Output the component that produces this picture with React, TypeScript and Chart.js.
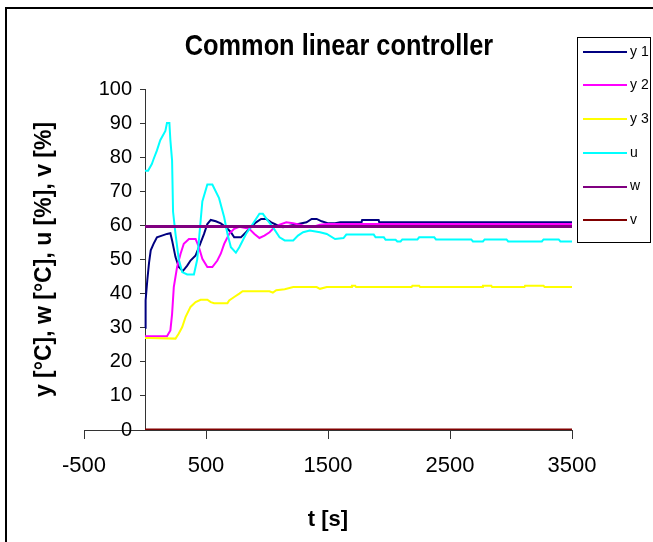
import React, { useEffect, useRef } from 'react';
import { Chart, registerables } from 'chart.js';

Chart.register(...registerables);

const SANS = "'Liberation Sans', Arial, sans-serif";

// ---- texts ----
const chartTitle = 'Common linear controller';
const xAxisTitle = 't [s]';
const yAxisTitle = 'y [°C], w [°C], u [%], v [%]';
const seriesNames = ['y 1', 'y 2', 'y 3', 'u', 'w', 'v'];

// ---- tick values ----
const xTickValues = [-500, 500, 1500, 2500, 3500];
const yTickValues = [0, 10, 20, 30, 40, 50, 60, 70, 80, 90, 100];

// ---- series: time [s] and value ----
const y1Times = [0, 5, 19, 33, 47, 70, 98, 139, 180, 208, 222, 250, 277, 310, 346, 373, 415, 442, 484, 511, 539, 580, 621, 662, 704, 731, 786, 828, 869, 910, 952, 993, 1035, 1076, 1131, 1187, 1256, 1324, 1366, 1407, 1448, 1503, 1558, 1600, 1775, 1780, 1915, 1920, 3500];
const y1Values = [30, 38, 44, 49, 52.7, 54.6, 56.5, 57, 57.5, 57.7, 55.6, 50.7, 47.8, 46.6, 48.2, 49.7, 51.2, 53.6, 57.5, 60.4, 61.6, 61.2, 60.6, 59.5, 58, 56.5, 56.5, 58, 59.5, 60.9, 61.9, 61.9, 60.9, 60.2, 59.5, 59.9, 60.4, 60.9, 61.9, 61.9, 61.2, 60.6, 60.6, 60.9, 60.9, 61.6, 61.6, 60.9, 60.9];

const y2Times = [0, 180, 208, 222, 236, 263, 291, 318, 360, 415, 442, 470, 511, 552, 593, 621, 649, 690, 731, 773, 814, 855, 897, 938, 979, 1021, 1062, 1103, 1158, 1214, 1269, 1324, 1379, 1434, 1490, 1600, 3500];
const y2Values = [27.5, 27.5, 29.2, 34, 41.9, 47.8, 51.6, 54.6, 56, 56, 53.6, 50.2, 47.8, 47.8, 49.7, 51.7, 54.6, 57.5, 59, 59.6, 59.3, 59, 57.5, 56.3, 57, 58, 59.5, 60.2, 60.9, 60.6, 60.2, 59.6, 59.6, 60.2, 60.4, 60.4, 60.4];

const y3Times = [0, 43, 250, 277, 305, 332, 373, 415, 456, 511, 539, 566, 676, 690, 731, 773, 800, 1020, 1048, 1076, 1145, 1215, 1407, 1434, 1490, 1690, 1696, 1723, 1730, 2185, 2192, 2247, 2255, 2765, 2770, 2839, 2845, 3110, 3115, 3267, 3275, 3500];
const y3Values = [27, 27, 26.8, 28.3, 30.2, 33.1, 36.1, 37.5, 38.2, 38.2, 37.5, 37.2, 37.2, 38, 39, 40, 40.7, 40.7, 40.3, 41, 41.3, 41.9, 41.9, 41.4, 41.9, 41.9, 42.3, 42.3, 41.9, 41.9, 42.3, 42.3, 41.9, 41.9, 42.3, 42.3, 41.9, 41.9, 42.3, 42.3, 41.9, 41.9];

const uTimes = [0, 25, 56, 70, 98, 125, 167, 180, 200, 208, 222, 230, 250, 277, 305, 346, 401, 428, 456, 470, 511, 552, 607, 649, 676, 704, 745, 773, 828, 883, 938, 966, 1007, 1048, 1103, 1145, 1215, 1254, 1296, 1350, 1434, 1490, 1558, 1627, 1650, 1875, 1890, 1958, 1972, 2054, 2068, 2095, 2109, 2233, 2247, 2371, 2385, 2674, 2688, 2770, 2784, 2963, 2977, 3253, 3267, 3391, 3405, 3500];
const uValues = [76, 76, 78, 79.4, 82, 85, 87.7, 90, 90, 85, 79, 64, 57.5, 50, 46.3, 45.6, 45.6, 50, 61.4, 67, 72, 72, 68, 62.4, 57.5, 53.6, 52, 53.6, 57.5, 60.4, 63.4, 63.4, 61.4, 59.5, 56.5, 55.6, 55.6, 57, 58, 58.5, 58, 57.5, 56, 56.3, 57.3, 57.3, 56.5, 56.5, 55.8, 55.8, 55.3, 55.3, 55.9, 55.9, 56.5, 56.5, 55.9, 55.9, 55.3, 55.3, 55.9, 55.9, 55.3, 55.3, 55.9, 55.9, 55.3, 55.3];

const wTimes = [0, 3500];
const wValues = [59.7, 59.7];

const vTimes = [0, 3500];
const vValues = [0, 0];

// ---- styles ----
const seriesColors = ['#000080', '#FF00FF', '#FFFF00', '#00FFFF', '#800080', '#800000'];
const seriesWidths = [2, 2, 2, 2, 3, 3];

const toPoints = (ts: number[], vs: number[]) => ts.map((t, i) => ({ x: t, y: vs[i] }));

const decorPlugin = {
  id: 'decor',
  beforeDraw(chart: any) {
    // y axis crosses at x = 0: keep its labels clear of the tick marks
    const s = chart.scales.y;
    const items = s.getLabelItems();
    if (!(items as any).$shifted) {
      items.forEach((it: any) => {
        const tr = it.options.translation;
        it.options.translation = [tr[0] - 13, tr[1]];
      });
      (items as any).$shifted = true;
    }
  },
  afterDraw(chart: any) {
    const ctx = chart.ctx as CanvasRenderingContext2D;
    const area = chart.chartArea;
    ctx.save();
    // outer frame
    ctx.strokeStyle = '#000';
    ctx.lineWidth = 2;
    ctx.beginPath();
    ctx.moveTo(6, chart.height + 2);
    ctx.lineTo(6, 8);
    ctx.lineTo(chart.width + 2, 8);
    ctx.stroke();

    ctx.fillStyle = '#000';
    // title (condensed)
    ctx.save();
    ctx.translate(339, 55);
    ctx.scale(0.845, 1);
    ctx.font = `bold 30px ${SANS}`;
    ctx.textAlign = 'center';
    ctx.textBaseline = 'alphabetic';
    ctx.fillText(chartTitle, 0, 0);
    ctx.restore();

    // x title
    ctx.font = `bold 22px ${SANS}`;
    ctx.textAlign = 'center';
    ctx.textBaseline = 'alphabetic';
    ctx.fillText(xAxisTitle, (area.left + area.right) / 2, 526);

    // y title
    ctx.save();
    ctx.translate(51, (area.top + area.bottom) / 2);
    ctx.rotate(-Math.PI / 2);
    ctx.font = `bold 23px ${SANS}`;
    ctx.textAlign = 'center';
    ctx.textBaseline = 'alphabetic';
    ctx.fillText(yAxisTitle, 0, 0);
    ctx.restore();

    // legend
    const lx = 577, ly = 37, lw = 73, lh = 205;
    ctx.lineWidth = 1;
    ctx.strokeStyle = '#000';
    ctx.strokeRect(lx + 0.5, ly + 0.5, lw, lh);
    ctx.font = `14px ${SANS}`;
    ctx.textAlign = 'left';
    ctx.textBaseline = 'middle';
    chart.data.datasets.forEach((ds: any, i: number) => {
      const cy = 51.7 + i * 33.7;
      ctx.strokeStyle = ds.borderColor;
      ctx.lineWidth = 2;
      ctx.beginPath();
      ctx.moveTo(583, Math.round(cy));
      ctx.lineTo(627, Math.round(cy));
      ctx.stroke();
      ctx.fillStyle = '#000';
      ctx.fillText(ds.label, 630, cy);
    });
    ctx.restore();
  },
};

export default function App() {
  const ref = useRef<HTMLCanvasElement | null>(null);
  useEffect(() => {
    if (!ref.current) return;
    const series = [
      toPoints(y1Times, y1Values),
      toPoints(y2Times, y2Values),
      toPoints(y3Times, y3Values),
      toPoints(uTimes, uValues),
      toPoints(wTimes, wValues),
      toPoints(vTimes, vValues),
    ];
    const chart = new Chart(ref.current, {
      type: 'line',
      data: {
        datasets: series.map((pts, i) => ({
          label: seriesNames[i],
          data: pts,
          borderColor: seriesColors[i],
          backgroundColor: seriesColors[i],
          borderWidth: seriesWidths[i],
          pointRadius: 0,
          tension: 0,
          fill: false,
          order: series.length - i,
        })),
      },
      options: {
        responsive: false,
        animation: false,
        layout: { padding: { left: 84, right: 81, top: 89, bottom: 112 } },
        plugins: {
          legend: { display: false },
          title: { display: false },
          tooltip: { enabled: false },
        },
        scales: {
          x: {
            type: 'linear',
            min: -500,
            max: 3500,
            position: { y: 0 } as any,
            afterBuildTicks: (s: any) => {
              s.ticks = xTickValues.map((v) => ({ value: v }));
            },
            grid: { display: true, drawOnChartArea: false, drawTicks: true, tickLength: 8, color: '#333', tickColor: '#333' },
            border: { display: true, color: '#333', width: 1 },
            ticks: {
              font: { family: SANS, size: 22 },
              color: '#000',
              padding: 15,
              maxRotation: 0,
              autoSkip: false,
              callback: (v: any) => String(v),
            },
          },
          y: {
            type: 'linear',
            min: 0,
            max: 100,
            position: { x: 0 } as any,
            afterBuildTicks: (s: any) => {
              s.ticks = yTickValues.map((v) => ({ value: v }));
            },
            grid: { display: true, drawOnChartArea: false, drawTicks: true, tickLength: 5, color: '#333', tickColor: '#333' },
            border: { display: true, color: '#333', width: 1 },
            ticks: {
              font: { family: SANS, size: 20 },
              color: '#000',
              autoSkip: false,
              callback: (v: any) => String(v),
            },
          },
        },
      },
      plugins: [decorPlugin],
    });
    return () => chart.destroy();
  }, []);
  return (
    <div style={{ position: 'absolute', left: 0, top: 0, width: 653, height: 542 }}>
      <canvas ref={ref} width={653} height={542} style={{ display: 'block' }} />
    </div>
  );
}
